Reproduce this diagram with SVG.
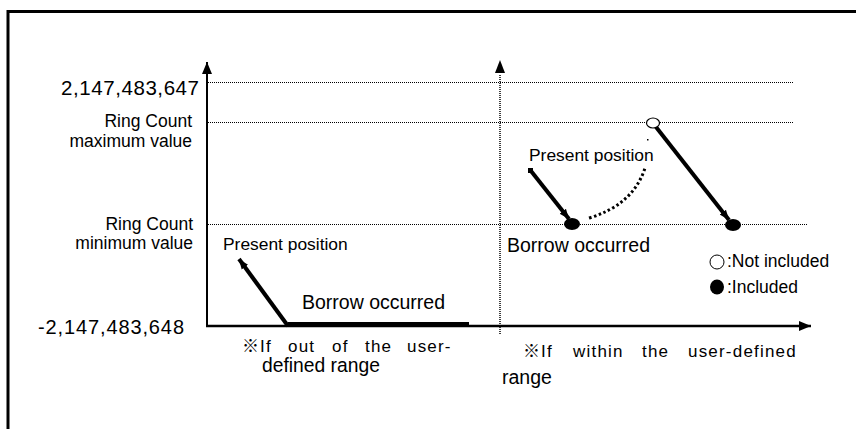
<svg xmlns="http://www.w3.org/2000/svg" width="856" height="429" viewBox="0 0 856 429">
<style>
.t{font-family:"Liberation Sans",Arial,sans-serif;fill:#000}
.cap{font-family:"Liberation Sans",Arial,sans-serif;fill:#000;font-size:17px;letter-spacing:1.2px}
.kome{font-family:"Noto Sans CJK JP",sans-serif;letter-spacing:0}
.dot{stroke:#000;stroke-width:1;stroke-dasharray:1 1;fill:none}
.thick{stroke:#000;stroke-width:4;fill:none}
</style>
<defs>
<marker id="ah" markerUnits="userSpaceOnUse" markerWidth="14" markerHeight="12" refX="12" refY="6" orient="auto">
<path d="M0,1 L12,6 L0,11 Z" fill="#000"/>
</marker>
<marker id="ahs" markerUnits="userSpaceOnUse" markerWidth="12" markerHeight="10" refX="10" refY="5" orient="auto">
<path d="M0,1 L10,5 L0,9 Z" fill="#000"/>
</marker>
</defs>
<rect width="856" height="429" fill="#fff"/>
<g id="frame">
<path d="M8,429 V11.5 H856" stroke="#000" stroke-width="3" fill="none"/>
</g>
<g id="grid">
<line class="dot" x1="208" y1="82.5" x2="793" y2="82.5"/>
<line class="dot" x1="208" y1="122.5" x2="793" y2="122.5"/>
<line class="dot" x1="208" y1="224.5" x2="808" y2="224.5"/>
</g>
<g id="axes">
<line x1="207" y1="327" x2="207" y2="62" stroke="#000" stroke-width="2" marker-end="url(#ah)"/>
<line x1="206" y1="326" x2="811" y2="326" stroke="#000" stroke-width="2.5" marker-end="url(#ah)"/>
<line x1="500" y1="334" x2="500" y2="74" stroke="#000" stroke-width="1.5" stroke-dasharray="1 1"/>
<path d="M500,60 L505,73 L495,73 Z" fill="#000"/>
</g>
<g id="labels">
<text class="t" x="199" y="95" font-size="20.5" text-anchor="end" textLength="138" lengthAdjust="spacing">2,147,483,647</text>
<text class="t" x="192" y="127" font-size="17.5" text-anchor="end">Ring Count</text>
<text class="t" x="192" y="147" font-size="17.5" text-anchor="end">maximum value</text>
<text class="t" x="193" y="230" font-size="17.5" text-anchor="end">Ring Count</text>
<text class="t" x="193" y="249" font-size="17.5" text-anchor="end">minimum value</text>
<text class="t" x="184" y="334" font-size="20" text-anchor="end" textLength="146" lengthAdjust="spacing">-2,147,483,648</text>
</g>
<g id="connectors">
<line class="thick" x1="288" y1="326" x2="239" y2="259" marker-end="url(#ahs)"/>
<rect x="288" y="322" width="181" height="5" fill="#000"/>
<rect x="528" y="168" width="5" height="5" fill="#000"/>
<line class="thick" x1="531" y1="171" x2="569" y2="219" marker-end="url(#ahs)"/>
<line class="thick" x1="656" y1="127" x2="729" y2="220" marker-end="url(#ahs)"/>
<path d="M589,218 Q633,205 645,168" stroke="#000" stroke-width="3" stroke-dasharray="2.5 2.5" fill="none"/>
<rect x="647" y="139" width="1.5" height="1.5" fill="#000"/>
</g>
<g id="points">
<ellipse cx="572" cy="224" rx="8" ry="6" fill="#000"/>
<ellipse cx="733" cy="225" rx="8" ry="6" fill="#000"/>
<ellipse cx="653" cy="123" rx="6.5" ry="5" fill="#fff" stroke="#000" stroke-width="1.2"/>
</g>
<g id="texts">
<text class="t" x="223" y="250" font-size="17.4">Present position</text>
<text class="t" x="302" y="309" font-size="19.5">Borrow occurred</text>
<text class="t" x="529" y="161" font-size="17.4">Present position</text>
<text class="t" x="507" y="252" font-size="19.5">Borrow occurred</text>
</g>
<g id="legend">
<ellipse cx="717" cy="262" rx="7" ry="7" fill="#fff" stroke="#000" stroke-width="1"/>
<text class="t" x="727" y="267" font-size="17.5">:Not included</text>
<ellipse cx="717" cy="287" rx="7" ry="7.5" fill="#000"/>
<text class="t" x="727" y="293" font-size="17.5">:Included</text>
</g>
<g id="captions">
<text class="cap" y="352"><tspan class="kome" x="242">※</tspan><tspan x="260">If</tspan><tspan x="288">out</tspan><tspan x="332">of</tspan><tspan x="365">the</tspan><tspan x="407">user-</tspan></text>
<text class="t" x="262" y="372" font-size="19.3">defined range</text>
<text class="cap" y="357"><tspan class="kome" x="523">※</tspan><tspan x="541">If</tspan><tspan x="573">within</tspan><tspan x="642">the</tspan><tspan x="688">user-defined</tspan></text>
<text class="t" x="502" y="384" font-size="19.5">range</text>
</g>
</svg>
